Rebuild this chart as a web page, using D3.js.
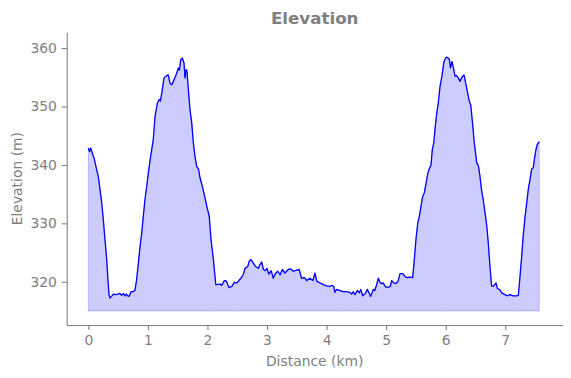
<!DOCTYPE html>
<html>
<head>
<meta charset="utf-8">
<script src="https://cdn.jsdelivr.net/npm/d3@7"></script>
<style>
  body { margin: 0; background: #fff; }
  text { font-family: "DejaVu Sans", sans-serif; }
</style>
</head>
<body>
<div id="chart"></div>
<script>
// profile, km / m
const distance = [
  0.00, 0.02, 0.04, 0.067, 0.096, 0.14, 0.168, 0.196, 0.225, 0.252, 0.28, 0.309, 0.326, 0.347, 0.364, 0.39,
  0.42, 0.448, 0.50, 0.53, 0.56, 0.59, 0.616, 0.64, 0.67, 0.69, 0.717, 0.755, 0.784, 0.81, 0.84, 0.868,
  0.896, 0.923, 0.95, 0.98, 1.007, 1.047, 1.09, 1.12, 1.159, 1.19, 1.21, 1.242, 1.27, 1.316, 1.343, 1.37,
  1.40, 1.44, 1.484, 1.51, 1.53, 1.55, 1.578, 1.607, 1.623, 1.64, 1.655, 1.679, 1.707, 1.736, 1.763, 1.79,
  1.82, 1.85, 1.875, 1.90, 1.94, 1.99, 2.03, 2.06, 2.10, 2.127, 2.14, 2.155, 2.21, 2.24, 2.283, 2.32,
  2.36, 2.41, 2.45, 2.49, 2.52, 2.56, 2.60, 2.63, 2.676, 2.70, 2.73, 2.77, 2.81, 2.854, 2.88, 2.91,
  2.94, 2.97, 3.00, 3.03, 3.07, 3.105, 3.14, 3.18, 3.22, 3.257, 3.30, 3.357, 3.40, 3.44, 3.50, 3.54,
  3.58, 3.63, 3.667, 3.72, 3.77, 3.805, 3.834, 3.89, 3.945, 4.00, 4.057, 4.09, 4.12, 4.14, 4.17, 4.225,
  4.28, 4.338, 4.39, 4.42, 4.45, 4.477, 4.516, 4.55, 4.573, 4.606, 4.65, 4.684, 4.717, 4.74, 4.784, 4.81,
  4.84, 4.868, 4.897, 4.92, 4.95, 4.99, 5.036, 5.07, 5.093, 5.13, 5.165, 5.20, 5.233, 5.28, 5.316, 5.35,
  5.40, 5.445, 5.468, 5.50, 5.53, 5.557, 5.585, 5.613, 5.64, 5.67, 5.70, 5.72, 5.753, 5.775, 5.80, 5.825,
  5.85, 5.875, 5.904, 5.92, 5.94, 5.97, 6.005, 6.03, 6.06, 6.08, 6.105, 6.13, 6.155, 6.18, 6.21, 6.24,
  6.27, 6.307, 6.335, 6.369, 6.396, 6.42, 6.45, 6.48, 6.52, 6.55, 6.576, 6.60, 6.63, 6.66, 6.69, 6.715,
  6.743, 6.77, 6.80, 6.845, 6.866, 6.91, 6.94, 6.995, 7.034, 7.08, 7.13, 7.19, 7.22, 7.247, 7.275, 7.30,
  7.33, 7.36, 7.386, 7.415, 7.443, 7.47, 7.487, 7.515, 7.537, 7.57
]
const elevation = [
  342.9, 342.3, 342.9, 342.0, 341.2, 339.2, 338.0, 335.8, 333.5, 330.6, 327.2, 323.8, 320.9, 317.8, 317.2, 317.5,
  317.9, 317.8, 317.9, 318.0, 317.7, 318.0, 317.6, 317.9, 317.5, 317.6, 318.3, 318.3, 318.6, 320.3, 323.2, 326.0,
  328.3, 331.2, 334.0, 336.3, 338.6, 341.5, 344.3, 348.3, 350.6, 351.2, 350.9, 352.9, 354.9, 355.3, 355.4, 354.0,
  353.7, 354.6, 355.7, 356.6, 356.2, 358.0, 358.3, 357.4, 354.9, 356.3, 356.2, 352.9, 349.5, 347.2, 343.8, 341.5,
  339.7, 339.3, 337.8, 336.9, 335.2, 332.9, 331.2, 327.2, 323.8, 320.9, 319.5, 319.5, 319.6, 319.4, 320.2, 320.1,
  319.0, 319.2, 319.9, 319.8, 320.1, 320.6, 321.2, 322.3, 322.6, 323.5, 323.8, 323.2, 322.6, 322.3, 322.9, 323.4,
  322.1, 321.9, 322.3, 321.3, 321.9, 320.6, 321.4, 321.8, 321.2, 322.1, 321.5, 322.1, 322.2, 321.8, 322.0, 322.1,
  320.6, 320.7, 320.2, 320.6, 320.2, 321.5, 320.1, 319.8, 319.5, 319.3, 319.2, 319.4, 319.2, 318.2, 318.7, 318.5,
  318.3, 318.3, 318.2, 317.9, 318.3, 317.8, 318.5, 318.1, 318.7, 317.6, 318.0, 318.7, 318.0, 317.5, 318.7, 318.5,
  319.5, 320.6, 319.9, 319.7, 319.8, 319.1, 319.1, 319.2, 320.2, 319.8, 319.7, 320.1, 321.4, 321.4, 320.9, 320.7,
  320.8, 320.7, 323.2, 327.2, 330.0, 331.2, 332.9, 334.6, 335.2, 336.9, 338.6, 339.2, 340.0, 342.6, 343.8, 346.6,
  348.9, 350.6, 353.4, 354.3, 355.4, 357.7, 358.4, 358.4, 358.1, 356.6, 357.7, 356.6, 355.2, 355.3, 354.9, 354.3,
  355.0, 355.4, 354.0, 352.3, 350.9, 350.3, 347.2, 343.8, 340.4, 339.8, 338.0, 335.8, 334.0, 331.8, 329.5, 326.6,
  322.6, 319.3, 319.2, 319.8, 318.9, 318.6, 318.1, 317.8, 317.6, 317.8, 317.6, 317.6, 317.7, 320.9, 324.3, 327.8,
  330.9, 333.5, 335.8, 337.5, 339.3, 339.5, 340.9, 342.6, 343.5, 344.0
]
const xTicks = [0, 1, 2, 3, 4, 5, 6, 7]
const yTicks = [320, 330, 340, 350, 360]
const baseElevation = 315

const width = 571
const height = 378
const margin = {top: 32.3, right: 8.3, bottom: 53, left: 66.7}
const grey = "#808080"

const data = distance.map((d, i) => ({km: d, m: elevation[i]}))

const svg = d3.select("#chart")
  .append("svg")
  .attr("width", width)
  .attr("height", height)

const x = d3.scaleLinear()
  .domain([-0.363, 7.964])
  .range([margin.left, width - margin.right])

const y = d3.scaleLinear()
  .domain([312.6, 362.7])
  .range([height - margin.bottom, margin.top])

// filled area under the profile
const area = d3.area()
  .x(d => x(d.km))
  .y0(y(baseElevation))
  .y1(d => y(d.m))

svg.append("path")
  .datum(data)
  .attr("d", area)
  .attr("fill", "blue")
  .attr("fill-opacity", 0.2)
  .attr("stroke", "blue")
  .attr("stroke-opacity", 0.2)
  .attr("stroke-width", 1)

const line = d3.line()
  .x(d => x(d.km))
  .y(d => y(d.m))

svg.append("path")
  .datum(data)
  .attr("d", line)
  .attr("fill", "none")
  .attr("stroke", "blue")
  .attr("stroke-width", 1.3)
  .attr("stroke-linejoin", "round")

// axes
const xAxis = svg.append("g")
  .attr("transform", `translate(0,${height - margin.bottom})`)
  .call(d3.axisBottom(x).tickValues(xTicks).tickFormat(d3.format("d"))
    .tickSizeInner(4.9).tickSizeOuter(0).tickPadding(4.9))

const yAxis = svg.append("g")
  .attr("transform", `translate(${margin.left},0)`)
  .call(d3.axisLeft(y).tickValues(yTicks).tickFormat(d3.format("d"))
    .tickSizeInner(4.9).tickSizeOuter(0).tickPadding(4.9))

for (const g of [xAxis, yAxis]) {
  g.select(".domain").attr("stroke", grey).attr("stroke-width", 1.1)
  g.selectAll(".tick line").attr("stroke", grey).attr("stroke-width", 1.1)
  g.selectAll(".tick text")
    .attr("fill", grey)
    .style("font-size", "13.9px")
    .style("font-family", "DejaVu Sans")
}

// labels and title
svg.append("text")
  .attr("x", (margin.left + width - margin.right) / 2)
  .attr("y", 24)
  .attr("text-anchor", "middle")
  .attr("fill", grey)
  .style("font-size", "16.7px")
  .style("font-weight", "bold")
  .text("Elevation")

svg.append("text")
  .attr("x", (margin.left + width - margin.right) / 2)
  .attr("y", 366)
  .attr("text-anchor", "middle")
  .attr("fill", grey)
  .style("font-size", "13.9px")
  .text("Distance (km)")

svg.append("text")
  .attr("transform", `translate(22,${(margin.top + height - margin.bottom) / 2}) rotate(-90)`)
  .attr("text-anchor", "middle")
  .attr("fill", grey)
  .style("font-size", "13.9px")
  .text("Elevation (m)")
</script>
</body>
</html>
